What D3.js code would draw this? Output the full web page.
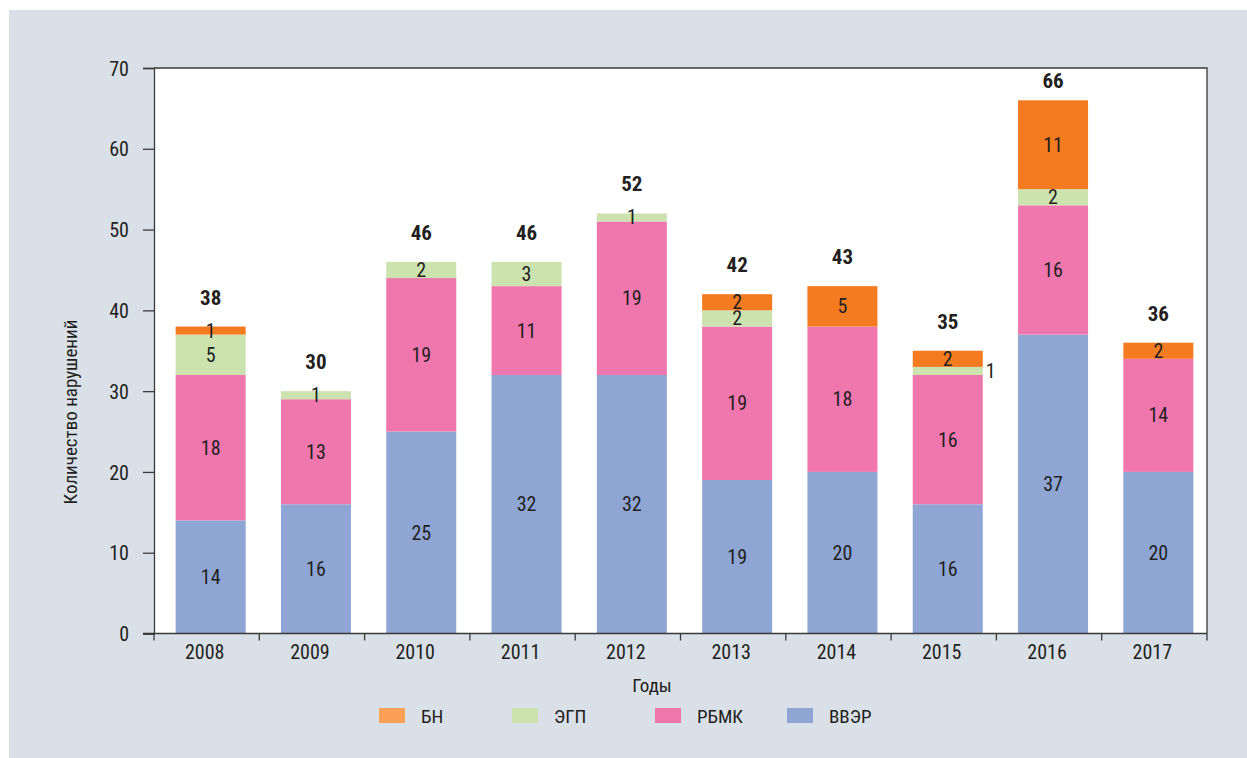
<!DOCTYPE html>
<html lang="ru">
<head>
    <meta charset="UTF-8">
    <title>Количество нарушений</title>
    <script src="https://d3js.org/d3.v7.min.js"></script>
    <style>
        body { margin: 0; background: #fff; }
        svg text {
            font-family: "Liberation Sans Narrow", "Roboto Condensed", Roboto, "Liberation Sans", sans-serif;
            fill: #231f20;
        }
        .tick-label { font-size: 20px; }
        .seg-label { font-size: 20px; }
        .total-label { font-size: 21px; font-weight: bold; }
        .axis-title { font-size: 19px; }
        .legend-label { font-size: 19px; }
    </style>
</head>
<body>
<div id="chart"></div>
<script>
    // data
    const years = ["2008", "2009", "2010", "2011", "2012", "2013", "2014", "2015", "2016", "2017"];
    const vver = [14, 16, 25, 32, 32, 19, 20, 16, 37, 20];
    const rbmk = [18, 13, 19, 11, 19, 19, 18, 16, 16, 14];
    const egp  = [5, 1, 2, 3, 1, 2, 0, 1, 2, 0];
    const bn   = [1, 0, 0, 0, 0, 2, 5, 2, 11, 2];
    const yTicks = [0, 10, 20, 30, 40, 50, 60, 70];

    const seriesNames = ["ВВЭР", "РБМК", "ЭГП", "БН"];      // bottom -> top
    const legendOrder = ["БН", "ЭГП", "РБМК", "ВВЭР"];
    const colors = { "ВВЭР": "#8fa6d5", "РБМК": "#f077ad", "ЭГП": "#cce3b0", "БН": "#f47b20" };
    const legendColors = { "ВВЭР": "#8fa6d5", "РБМК": "#f077ad", "ЭГП": "#cce3b0", "БН": "#fba054" };
    // labels drawn beside the bar instead of inside
    const outsideLabels = [["2015", "ЭГП"]];

    const W = 1247, H = 758;
    const plot = { left: 154, right: 1207, top: 68, bottom: 633.5 };

    const rows = years.map((y, i) => ({
        year: y, "ВВЭР": vver[i], "РБМК": rbmk[i], "ЭГП": egp[i], "БН": bn[i]
    }));

    const svg = d3.select("#chart").append("svg")
        .attr("width", W).attr("height", H);

    // grey panel
    svg.append("rect")
        .attr("x", 9).attr("y", 10)
        .attr("width", W - 9).attr("height", H - 10)
        .attr("fill", "#dae0e7");

    // white plot area
    svg.append("rect")
        .attr("x", plot.left).attr("y", plot.top)
        .attr("width", plot.right - plot.left).attr("height", plot.bottom - plot.top)
        .attr("fill", "#fff");

    const x = d3.scaleBand().domain(years).range([plot.left, plot.right]).padding(0);
    const y = d3.scaleLinear().domain([0, 70]).range([plot.bottom, plot.top]);
    const barW = x.bandwidth() * 0.665;

    const stack = d3.stack().keys(seriesNames)(rows);

    const g = svg.append("g");
    stack.forEach(layer => {
        const key = layer.key;
        layer.forEach(d => {
            const v = d[1] - d[0];
            if (v <= 0) return;
            const bx = x(d.data.year) + (x.bandwidth() - barW) / 2 + 4;
            g.append("rect")
                .attr("x", bx)
                .attr("y", y(d[1]))
                .attr("width", barW)
                .attr("height", y(d[0]) - y(d[1]))
                .attr("fill", colors[key]);

            const outside = outsideLabels.some(o => o[0] === d.data.year && o[1] === key);
            g.append("text")
                .attr("class", "seg-label")
                .attr("x", outside ? bx + barW + 3 : bx + barW / 2)
                .attr("y", (y(d[0]) + y(d[1])) / 2 + 7)
                .attr("text-anchor", outside ? "start" : "middle")
                .text(v);
        });
    });

    // totals
    rows.forEach(r => {
        const total = seriesNames.reduce((s, k) => s + r[k], 0);
        g.append("text")
            .attr("class", "total-label")
            .attr("x", x(r.year) + x.bandwidth() / 2 + 4)
            .attr("y", Math.max(y(total) - 22, 88))
            .attr("text-anchor", "middle")
            .text(total);
    });

    // frame top/right
    svg.append("path")
        .attr("d", `M${plot.left},${plot.top}H${plot.right}V${plot.bottom}`)
        .attr("fill", "none").attr("stroke", "#3a3a3a").attr("stroke-width", 1.3);

    // y axis
    const yAxis = svg.append("g")
        .attr("transform", `translate(${plot.left},0)`)
        .call(d3.axisLeft(y).tickValues(yTicks).tickSize(11).tickPadding(14));
    yAxis.select(".domain").attr("stroke", "#3a3a3a").attr("stroke-width", 1.3);
    yAxis.selectAll(".tick line").attr("stroke", "#3a3a3a").attr("stroke-width", 1.3);
    yAxis.selectAll(".tick text").attr("class", "tick-label").attr("font-size", null).attr("font-family", null).attr("dy", "0.36em");

    // x axis: ticks at band boundaries
    const xAxisG = svg.append("g").attr("transform", `translate(0,${plot.bottom})`);
    xAxisG.append("line")
        .attr("x1", plot.left - 11).attr("x2", plot.right)
        .attr("stroke", "#3a3a3a").attr("stroke-width", 1.3);
    const bounds = years.map(yr => x(yr)).concat([plot.right]);
    xAxisG.selectAll(".xtick").data(bounds).join("line")
        .attr("x1", d => d).attr("x2", d => d)
        .attr("y1", 0).attr("y2", 7)
        .attr("stroke", "#3a3a3a").attr("stroke-width", 1.3);
    xAxisG.selectAll(".xlab").data(years).join("text")
        .attr("class", "tick-label")
        .attr("x", d => x(d) + x.bandwidth() / 2 - 2)
        .attr("y", 25)
        .attr("text-anchor", "middle")
        .text(d => d);

    // axis titles
    svg.append("text")
        .attr("class", "axis-title")
        .attr("x", 652).attr("y", 692)
        .attr("text-anchor", "middle")
        .text("Годы");

    svg.append("text")
        .attr("class", "axis-title")
        .attr("transform", "translate(77,412) rotate(-90)")
        .attr("text-anchor", "middle")
        .text("Количество нарушений");

    // legend
    const legend = svg.append("g").attr("transform", "translate(379,708)");
    legendOrder.forEach((k, i) => {
        const lx = [0, 133, 276, 408][i];
        legend.append("rect")
            .attr("x", lx).attr("y", 0)
            .attr("width", 26).attr("height", 15)
            .attr("fill", legendColors[k]);
        legend.append("text")
            .attr("class", "legend-label")
            .attr("x", lx + 42).attr("y", 15)
            .text(k);
    });
</script>
</body>
</html>
